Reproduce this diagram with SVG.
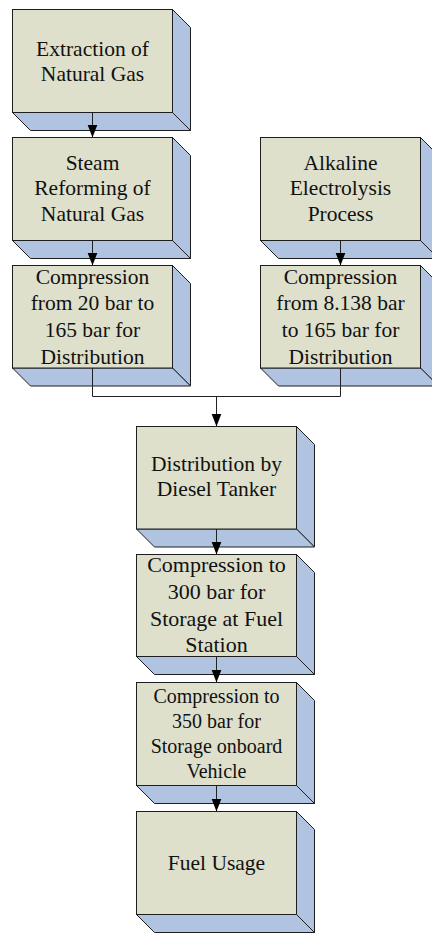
<svg xmlns="http://www.w3.org/2000/svg" width="432" height="934" viewBox="0 0 432 934">
<defs>
<style>
.front{fill:#dee0cc;stroke:#1e1e1e;stroke-width:1}
.side{fill:#b0c4e2;stroke:#1e1e1e;stroke-width:1;stroke-linejoin:miter}
.t{font-family:'Liberation Serif','Times New Roman',serif;font-size:21.5px;fill:#111;text-anchor:middle}
.c{fill:none;stroke:#222;stroke-width:1}
</style>
<marker id="ah" markerUnits="userSpaceOnUse" markerWidth="14" markerHeight="12" viewBox="0 0 14 12" refX="13" refY="6" orient="auto">
<path d="M0,1 L13,6 L0,11 Z" fill="#000"/>
</marker>
</defs>
<rect width="432" height="934" fill="#fff"/>

<g font-family="Liberation Serif, Times New Roman, serif">
<g id="extraction">
<polygon class="side" points="172.5,9.5 190.5,27.5 190.5,130.5 172.5,112.5"/>
<polygon class="side" points="12.5,112.5 172.5,112.5 190.5,130.5 30.5,130.5"/>
<rect class="front" x="12.5" y="9.5" width="160" height="103"/>
<text class="t" x="92.5" y="55.5">Extraction of</text>
<text class="t" x="92.5" y="80.5">Natural Gas</text>
</g>

<g id="steam">
<polygon class="side" points="172.5,137.5 190.5,155.5 190.5,258.5 172.5,240.5"/>
<polygon class="side" points="12.5,240.5 172.5,240.5 190.5,258.5 30.5,258.5"/>
<rect class="front" x="12.5" y="137.5" width="160" height="103"/>
<text class="t" x="92.5" y="170">Steam</text>
<text class="t" x="92.5" y="195.3">Reforming of</text>
<text class="t" x="92.5" y="220.6">Natural Gas</text>
</g>

<g id="compression-left">
<polygon class="side" points="172.5,265.5 190.5,283.5 190.5,386 172.5,368"/>
<polygon class="side" points="12.5,368 172.5,368 190.5,386 30.5,386"/>
<rect class="front" x="12.5" y="265.5" width="160" height="102.5"/>
<text class="t" x="92.5" y="283.5">Compression</text>
<text class="t" x="92.5" y="310.2">from 20 bar to</text>
<text class="t" x="92.5" y="336.9">165 bar for</text>
<text class="t" x="92.5" y="363.5">Distribution</text>
</g>

<g id="alkaline">
<polygon class="side" points="420.5,137.5 438.5,155.5 438.5,258.5 420.5,240.5"/>
<polygon class="side" points="260.5,240.5 420.5,240.5 438.5,258.5 278.5,258.5"/>
<rect class="front" x="260.5" y="137.5" width="160" height="103"/>
<text class="t" x="340.5" y="170">Alkaline</text>
<text class="t" x="340.5" y="195.3">Electrolysis</text>
<text class="t" x="340.5" y="220.6">Process</text>
</g>

<g id="compression-right">
<polygon class="side" points="420.5,265.5 438.5,283.5 438.5,386 420.5,368"/>
<polygon class="side" points="260.5,368 420.5,368 438.5,386 278.5,386"/>
<rect class="front" x="260.5" y="265.5" width="160" height="102.5"/>
<text class="t" x="340.5" y="283.5">Compression</text>
<text class="t" x="340.5" y="310.2">from 8.138 bar</text>
<text class="t" x="340.5" y="336.9">to 165 bar for</text>
<text class="t" x="340.5" y="363.5">Distribution</text>
</g>

<g id="distribution">
<polygon class="side" points="296.5,426.5 314.5,444.5 314.5,547 296.5,529"/>
<polygon class="side" points="136.5,529 296.5,529 314.5,547 154.5,547"/>
<rect class="front" x="136.5" y="426.5" width="160" height="102.5"/>
<text class="t" x="216.5" y="470.7">Distribution by</text>
<text class="t" x="216.5" y="496">Diesel Tanker</text>
</g>

<g id="compression-300">
<polygon class="side" points="296.5,554.5 314.5,572.5 314.5,674.5 296.5,656.5"/>
<polygon class="side" points="136.5,656.5 296.5,656.5 314.5,674.5 154.5,674.5"/>
<rect class="front" x="136.5" y="554.5" width="160" height="102"/>
<text class="t" x="216.5" y="571.7" style="font-size:22px">Compression to</text>
<text class="t" x="216.5" y="598.5" style="font-size:22px">300 bar for</text>
<text class="t" x="216.5" y="625.5" style="font-size:22px">Storage at Fuel</text>
<text class="t" x="216.5" y="652.3" style="font-size:22px">Station</text>
</g>

<g id="compression-350">
<polygon class="side" points="296.5,682.5 314.5,700.5 314.5,803.5 296.5,785.5"/>
<polygon class="side" points="136.5,785.5 296.5,785.5 314.5,803.5 154.5,803.5"/>
<rect class="front" x="136.5" y="682.5" width="160" height="103"/>
<text class="t" x="216.5" y="703.3" style="font-size:20px">Compression to</text>
<text class="t" x="216.5" y="728.3" style="font-size:20px">350 bar for</text>
<text class="t" x="216.5" y="753.3" style="font-size:20px">Storage onboard</text>
<text class="t" x="216.5" y="777.5" style="font-size:20px">Vehicle</text>
</g>

<g id="fuel-usage">
<polygon class="side" points="296.5,811.5 314.5,829.5 314.5,932.5 296.5,914.5"/>
<polygon class="side" points="136.5,914.5 296.5,914.5 314.5,932.5 154.5,932.5"/>
<rect class="front" x="136.5" y="811.5" width="160" height="103"/>
<text class="t" x="216.5" y="870">Fuel Usage</text>
</g>
</g>

<g id="connectors">
<line class="c" x1="92.5" y1="112.5" x2="92.5" y2="137.5" marker-end="url(#ah)"/>
<line class="c" x1="92.5" y1="240.5" x2="92.5" y2="265.5" marker-end="url(#ah)"/>
<line class="c" x1="340.5" y1="240.5" x2="340.5" y2="265.5" marker-end="url(#ah)"/>
<polyline class="c" points="92.5,368 92.5,396.5 340.5,396.5 340.5,368"/>
<line class="c" x1="216.5" y1="396.5" x2="216.5" y2="426.5" marker-end="url(#ah)"/>
<line class="c" x1="216.5" y1="529" x2="216.5" y2="554.5" marker-end="url(#ah)"/>
<line class="c" x1="216.5" y1="656.5" x2="216.5" y2="682.5" marker-end="url(#ah)"/>
<line class="c" x1="216.5" y1="785.5" x2="216.5" y2="811.5" marker-end="url(#ah)"/>
</g>
</svg>
